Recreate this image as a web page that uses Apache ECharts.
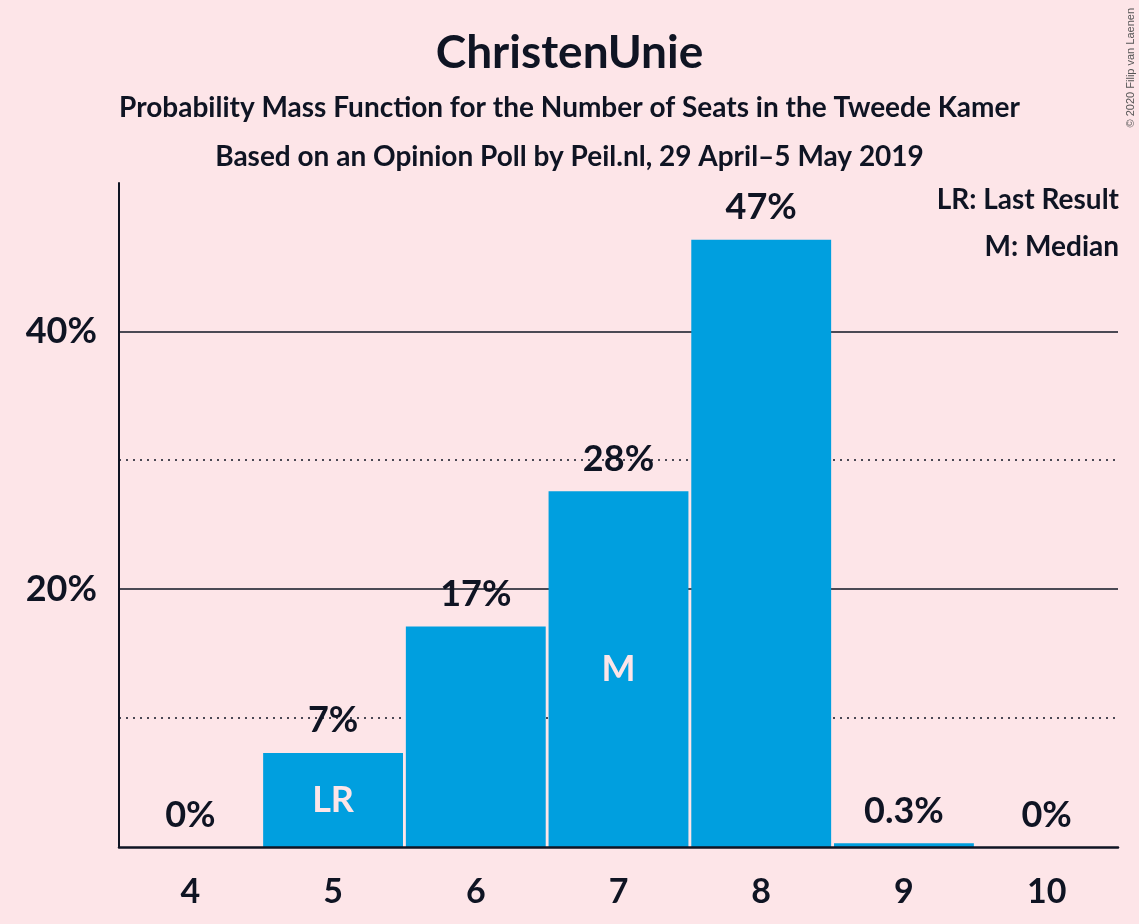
<!DOCTYPE html>
<html lang="en">
<head>
    <meta charset="UTF-8">
    <title>ChristenUnie</title>
    <style>
        html, body { margin: 0; padding: 0; background: #fde5e8; }
        #main { width: 1139px; height: 924px; }
    </style>
</head>
<body>
    <div id="main"></div>
</body>
<script src="https://cdn.jsdelivr.net/npm/echarts@6/dist/echarts.min.js"></script>
<script>
    // chart data
    var seats = ['4', '5', '6', '7', '8', '9', '10'];
    var probs = [0, 7.3, 17.1, 27.6, 47.1, 0.3, 0];
    var valueLabels = ['0%', '7%', '17%', '28%', '47%', '0.3%', '0%'];
    var markers = ['', 'LR', '', 'M', '', '', ''];
    var solidGrid = [20, 40];
    var dottedGrid = [10, 30];
    var yTickLabels = {20: '20%', 40: '40%'};

    var bg = '#fde5e8';
    var ink = '#0f1423';
    var blue = '#009fdf';
    var font = 'Lato';

    var main = echarts.init(document.getElementById('main'));

    var gridLines = [];
    solidGrid.forEach(function (v) {
        gridLines.push({ yAxis: v, lineStyle: { type: 'solid', width: 1.5, color: ink } });
    });
    dottedGrid.forEach(function (v) {
        gridLines.push({ yAxis: v, lineStyle: { type: [2, 5], width: 1.5, color: ink } });
    });

    var option = {
        backgroundColor: bg,
        animation: false,
        textStyle: { fontFamily: font },
        title: [{
            text: 'ChristenUnie',
            left: 'center',
            top: 25,
            textStyle: { color: ink, fontSize: 46, fontWeight: 'bold', fontFamily: font }
        }, {
            text: 'Probability Mass Function for the Number of Seats in the Tweede Kamer',
            left: 'center',
            top: 89,
            textStyle: { color: ink, fontSize: 28, fontWeight: 'bold', fontFamily: font }
        }, {
            text: 'Based on an Opinion Poll by Peil.nl, 29 April\u20135 May 2019',
            left: 'center',
            top: 138,
            textStyle: { color: ink, fontSize: 28, fontWeight: 'bold', fontFamily: font }
        }],
        graphic: [{
            type: 'text',
            right: 20,
            top: 186,
            style: { text: 'LR: Last Result', fill: ink, font: 'bold 28px Lato', textAlign: 'right' }
        }, {
            type: 'text',
            right: 20,
            top: 233,
            style: { text: 'M: Median', fill: ink, font: 'bold 28px Lato', textAlign: 'right' }
        }, {
            type: 'text',
            left: 1125,
            top: 8,
            rotation: Math.PI / 2,
            style: { text: '\u00a9 2020 Filip van Laenen', fill: '#555', font: '11px "Liberation Sans"' }
        }],
        grid: { left: 119, right: 21, top: 183, bottom: 77 },
        xAxis: {
            type: 'category',
            data: seats,
            z: 5,
            axisLine: { lineStyle: { color: ink, width: 2.5 } },
            axisTick: { show: false },
            axisLabel: { color: ink, fontSize: 34, fontWeight: 'bold', fontFamily: font, margin: 28 }
        },
        yAxis: {
            type: 'value',
            min: 0,
            max: 51.5,
            interval: 10,
            axisLine: { show: true, lineStyle: { color: ink, width: 2 } },
            axisTick: { show: false },
            splitLine: { show: false },
            axisLabel: {
                color: ink,
                fontSize: 36,
                fontWeight: 'bold',
                fontFamily: font,
                margin: 22,
                formatter: function (v) { return yTickLabels[v] || ''; }
            }
        },
        series: [{
            type: 'line',
            data: [],
            z: 1,
            markLine: {
                silent: true,
                z: 1,
                symbol: 'none',
                label: { show: false },
                data: gridLines
            }
        }, {
            type: 'bar',
            z: 2,
            data: probs,
            barWidth: '98%',
            itemStyle: { color: blue },
            label: {
                show: true,
                position: 'top',
                distance: 14,
                color: ink,
                fontSize: 36,
                fontWeight: 'bold',
                fontFamily: font,
                formatter: function (p) { return valueLabels[p.dataIndex]; }
            }
        }, {
            type: 'bar',
            z: 3,
            data: probs,
            barWidth: '98%',
            barGap: '-100%',
            itemStyle: { color: 'rgba(0,0,0,0)' },
            label: {
                show: true,
                position: 'inside',
                color: bg,
                fontSize: 36,
                fontWeight: 'bold',
                fontFamily: font,
                formatter: function (p) { return markers[p.dataIndex]; }
            }
        }]
    };
    main.setOption(option);
</script>
</html>
